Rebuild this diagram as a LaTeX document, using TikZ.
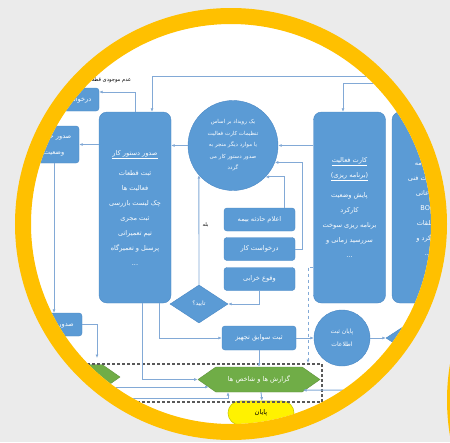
\documentclass[tikz,border=0pt]{standalone}
\usepackage{fontspec}
\newfontfamily\fa[Script=Arabic]{DejaVu Sans}
\TeXXeTstate=1
\newcommand\fatext[1]{\beginR#1\endR}
\usetikzlibrary{arrows.meta,shapes.geometric,shapes.symbols,shapes.misc}

\definecolor{ringgold}{HTML}{FFC000}
\definecolor{bgray}{HTML}{EBEBEB}
\definecolor{boxblue}{HTML}{5B9BD5}
\definecolor{edgeblue}{HTML}{4A88C5}
\definecolor{lineblue}{HTML}{82A9D6}
\definecolor{repgreen}{HTML}{70AD47}
\definecolor{fingold}{HTML}{C9C900}

\begin{document}
\begin{tikzpicture}[x = 1pt, y = -1pt, > = {Latex[length = 3.5pt, width = 3pt]},
	flow/.style = {draw = lineblue, line width = 0.9pt, ->},
	tallbox/.style = {draw = edgeblue, line width = 0.4pt, fill = boxblue, rounded corners = 8pt,
		minimum width = 72pt, minimum height = 191pt, inner sep = 0pt, text = white, align = center,
		font = \fa\fontsize{6.6}{15}\selectfont},
	smallbox/.style = {draw = edgeblue, line width = 0.4pt, fill = boxblue, rounded corners = 3pt,
		minimum width = 71pt, minimum height = 23pt, inner sep = 0pt, text = white, align = center,
		font = \fa\fontsize{6.6}{16}\selectfont},
	bluecircle/.style = {circle, draw = edgeblue, line width = 0.4pt, fill = boxblue, inner sep = 0pt,
		text = white, align = center},
	okdiamond/.style = {diamond, aspect = 1.5, draw = edgeblue, line width = 0.4pt, fill = boxblue,
		minimum width = 58pt, minimum height = 38pt, inner sep = 0pt, text = white,
		font = \fa\fontsize{6}{7}\selectfont},
	hexa/.style = {signal, signal to = east and west, signal pointer angle = 70, draw = repgreen!85!black,
		line width = 0.4pt, fill = repgreen, minimum height = 25pt, inner sep = 0pt, text = white,
		font = \fa\fontsize{6.6}{8}\selectfont},
	finbox/.style = {rounded rectangle, draw = fingold, line width = 0.6pt, fill = yellow,
		minimum width = 66pt, minimum height = 24pt, inner sep = 0pt, font = \fa\fontsize{6.6}{8}\selectfont},
	dashbox/.style = {draw = black!65, line width = 1.3pt, dash pattern = on 3pt off 2pt}
]
	\useasboundingbox (0, 0) rectangle (450, 442);
	
	% Backdrop and second ring
	
	\fill [bgray] (0, 0) rectangle (450, 442);
	\draw [ringgold, line width = 16pt] (662, 400) circle (207);
	\fill [white] (231, 224) circle (208);
	
	\begin{scope}
	\clip (231, 224) circle (200);
	
	% Blocks
	
	\node [tallbox] (wo) at (135, 207.5) {\underline{\fatext{صدور دستور کار}}\\[5pt]
		\fatext{ثبت قطعات}\\ \fatext{فعالیت ها}\\ \fatext{چک لیست بازرسی}\\ \fatext{ثبت مجری}\\
		\fatext{تیم تعمیراتی}\\ \fatext{پرسنل و تعمیرگاه}\\ ...};
	\node [tallbox] (card) at (349.5, 207.5) {\underline{\fatext{کارت فعالیت}}\\
		\underline{\fatext{(برنامه ریزی)}}\\[5pt]
		\fatext{پایش وضعیت}\\ \fatext{کارکرد}\\ \fatext{برنامه ریزی سوخت}\\
		\fatext{سررسید زمانی و}\\ ...};
	\node [tallbox] (bom) at (428, 207.5) {\fatext{شناسنامه}\\ \fatext{مشخصات فنی}\\
		\fatext{اطلاعاتی}\\ \beginL BOM\endL\\ \fatext{متعلقات}\\ \fatext{کارکرد و}\\ ...};
	
	\node [bluecircle, minimum size = 90pt, font = \fa\fontsize{5.5}{11.5}\selectfont] (event) at (233, 145.5)
		{\fatext{یک رویداد بر اساس}\\ \fatext{تنظیمات کارت فعالیت}\\ \fatext{یا موارد دیگر منجر به}\\
		\fatext{صدور دستور کار می}\\ \fatext{گردد}};
	
	\node [smallbox] (ins) at (259.5, 219.5) {\fatext{اعلام حادثه بیمه}};
	\node [smallbox] (req) at (259.5, 249) {\fatext{درخواست کار}};
	\node [smallbox] (fail) at (259.5, 279) {\fatext{وقوع خرابی}};
	\node [okdiamond] (ok) at (199, 304) {\fatext{تایید؟}};
	
	\node [smallbox, minimum width = 74pt, minimum height = 24pt] (hist) at (259, 338) {\fatext{ثبت سوابق تجهیز}};
	\node [bluecircle, minimum size = 56pt, font = \fa\fontsize{6}{13}\selectfont] (endrec) at (342, 338)
		{\fatext{پایان ثبت}\\ \fatext{اطلاعات}};
	\node [okdiamond] (dec) at (415, 338) {};
	
	\node [smallbox, minimum width = 58pt] (buy) at (70, 99.5) {\fatext{درخواست خرید}};
	\node [smallbox, minimum width = 50pt, minimum height = 37pt] (stat) at (54, 144.5)
		{\fatext{صدور خلاصه}\\ \fatext{وضعیت}};
	\node [smallbox, minimum width = 56pt] (iss) at (54, 324.5) {\fatext{صدور سفارش}};
	
	\node [hexa, minimum width = 122pt] (rep) at (259, 379.5) {\fatext{گزارش ها و شاخص ها}};
	\node [hexa, minimum width = 100pt] (rep0) at (70, 377) {};
	\node [finbox] (fin) at (261, 413) {\fatext{پایان}};
	
	\draw [dashbox] (5, 364) rectangle (322, 402);
	
	% Connectors
	
	\coordinate (t1) at (440, 76);
	\coordinate (t2) at (440, 83);
	\coordinate (d1) at (308, 363);
	\coordinate (r1) at (430, 390);
	\coordinate (b0) at (20, 398);
	\coordinate (c1) at (97, 358);
	
	\draw [flow] (t1) -| ([xshift = 17pt] wo.north);
	\draw [flow] (t2) -| ([xshift = -6.5pt] card.north);
	\draw [flow] (wo.north) |- node [anchor = south east, yshift = 5pt, text = black,
		font = \fa\fontsize{5.2}{6}\selectfont] {\fatext{عدم موجودی قطعات}} ([yshift = 7.5pt] buy.east);
	\draw [flow] (stat.east -| wo.west) -- (stat.east);
	\draw [flow] (event.west) -- (event.west -| wo.east);
	\draw [flow] (card.west |- event.east) -- (event.east);
	\draw [flow] (req.east) -- ++(7, 0) |- (event.-22);
	\draw [flow] ([xshift = 24.5pt] ins.north) |- (event.-44);
	\draw [flow] (ok.north) -- node [right, pos = 0.55, text = black, font = \fa\fontsize{5}{6}\selectfont]
		{\fatext{بله}} (event.-139);
	\draw [flow] (fail.south) |- (ok.east);
	\draw [flow] ([xshift = 7pt] wo.south) |- (rep.west);
	\draw [flow] ([xshift = 24pt] wo.south) |- (hist.west);
	\draw [flow] (hist.east) -- (endrec.west);
	\draw [flow] (endrec.east) -- (dec.west);
	\draw [flow] (hist.south) -- (rep.north);
	\draw [flow, dashed] (card.west |- 0, 267) -| (d1);
	\draw [flow] (r1) -- ([xshift = 44pt, yshift = 2pt] rep.south);
	\draw [flow] ([xshift = -4pt, yshift = -10pt] rep0.east) -- ([xshift = 11pt, yshift = -7.5pt] rep.west);
	\draw [flow] (b0) -| ([xshift = -31pt] rep.south);
	\draw [flow] ([xshift = 2pt] rep.south) -- ([xshift = 1pt] fin.north);
	\draw [flow] (stat.south) -- (iss.north);
	\draw [flow] (iss.east) -| (c1);
	
	\end{scope}
	
	% Frame ring
	
	\draw [ringgold, line width = 16pt] (231, 224) circle (208);
	
\end{tikzpicture}
\end{document}
